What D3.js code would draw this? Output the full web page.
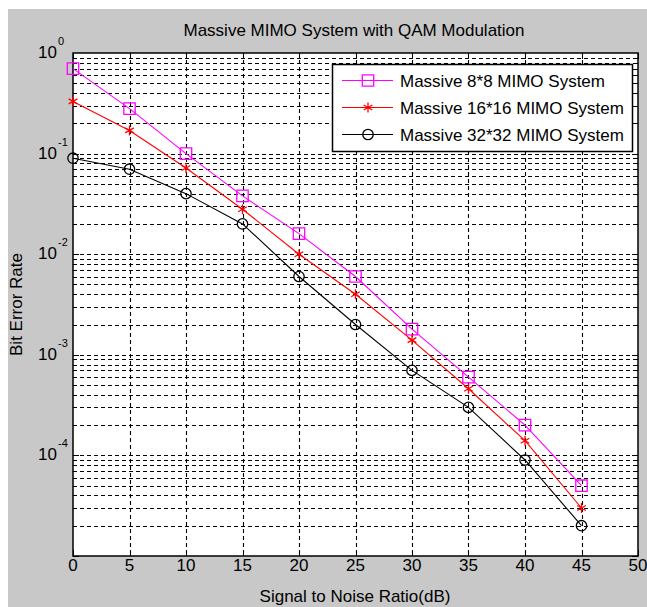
<!DOCTYPE html>
<html>
  <head>
    <meta charset="utf-8">
    <title>Massive MIMO BER</title>
    <script src="https://d3js.org/d3.v7.min.js"></script>
    <style>
      body { margin: 0; background: #fff; font-family: "Liberation Sans", Arial, sans-serif; }
      svg text { fill: #000; }
    </style>
  </head>
  <body>
    <div id="chart"></div>
    <script>
      // SNR values (dB) on the x axis
      var snr = [0, 5, 10, 15, 20, 25, 30, 35, 40, 45];

      // bit error rate, one array per system
      var ber8  = [0.7, 0.28, 0.1, 0.038, 0.016, 0.006, 0.0018, 0.0006, 0.0002, 0.00005];
      var ber16 = [0.33, 0.17, 0.072, 0.028, 0.01, 0.004, 0.0014, 0.00046, 0.00014, 0.00003];
      var ber32 = [0.09, 0.07, 0.04, 0.02, 0.006, 0.002, 0.0007, 0.0003, 0.00009, 0.00002];

      var seriesNames = ["Massive 8*8 MIMO System", "Massive 16*16 MIMO System", "Massive 32*32 MIMO System"];
      var xTicks = [0, 5, 10, 15, 20, 25, 30, 35, 40, 45, 50];
      var yExponents = [0, -1, -2, -3, -4];

      var W = 647, H = 607;
      // note: "top" is taken by window.top, so the plot box uses its own names
      var pl = 73, pr = 638, pt = 53, pb = 556;

      var svg = d3.select("#chart").append("svg")
        .attr("width", W)
        .attr("height", H);

      // grey figure background
      svg.append("rect")
        .attr("x", 8).attr("y", 9)
        .attr("width", W - 8).attr("height", H - 9)
        .attr("fill", "#c8c8c8");

      var x = d3.scaleLinear().domain([0, 50]).range([pl, pr]);
      var y = d3.scaleLog().domain([1e-5, 1]).range([pb, pt]);

      svg.append("rect")
        .attr("x", pl).attr("y", pt)
        .attr("width", pr - pl).attr("height", pb - pt)
        .attr("fill", "#fff");

      // grid: every minor decade step horizontally, every x tick vertically
      var yGrid = [];
      for (var e = -5; e < 0; e++) {
        for (var m = 1; m < 10; m++) yGrid.push(m * Math.pow(10, e));
      }
      var grid = svg.append("g")
        .attr("stroke", "#000")
        .attr("stroke-width", 1.1)
        .attr("stroke-dasharray", "4,3");

      grid.selectAll("line.h").data(yGrid.filter(function(v) { return v > 1e-5; }))
        .enter().append("line").attr("class", "h")
          .attr("x1", pl).attr("x2", pr)
          .attr("y1", function(d) { return Math.round(y(d)) + 0.5; })
          .attr("y2", function(d) { return Math.round(y(d)) + 0.5; });

      grid.selectAll("line.v").data(xTicks.slice(1, -1))
        .enter().append("line").attr("class", "v")
          .attr("y1", pt).attr("y2", pb)
          .attr("x1", function(d) { return Math.round(x(d)) + 0.5; })
          .attr("x2", function(d) { return Math.round(x(d)) + 0.5; });

      // tick marks on all four sides (inward)
      var ticks = svg.append("g").attr("stroke", "#000").attr("stroke-width", 1);
      xTicks.forEach(function(t) {
        var px = Math.round(x(t)) + 0.5;
        ticks.append("line").attr("x1", px).attr("x2", px).attr("y1", pb).attr("y2", pb - 6);
        ticks.append("line").attr("x1", px).attr("x2", px).attr("y1", pt).attr("y2", pt + 6);
      });
      yGrid.forEach(function(v) {
        var py = Math.round(y(v)) + 0.5;
        var len = (Math.abs(Math.log10(v) - Math.round(Math.log10(v))) < 1e-9) ? 6 : 3;
        ticks.append("line").attr("x1", pl).attr("x2", pl + len).attr("y1", py).attr("y2", py);
        ticks.append("line").attr("x1", pr).attr("x2", pr - len).attr("y1", py).attr("y2", py);
      });

      svg.append("rect")
        .attr("x", pl).attr("y", pt)
        .attr("width", pr - pl).attr("height", pb - pt)
        .attr("fill", "none")
        .attr("stroke", "#000")
        .attr("stroke-width", 1.5);

      // x tick labels
      svg.append("g").selectAll("text").data(xTicks)
        .enter().append("text")
          .attr("x", function(d) { return x(d); })
          .attr("y", 571)
          .attr("text-anchor", "middle")
          .attr("font-size", 17)
          .text(function(d) { return d; });

      // y tick labels 10^n
      var yl = svg.append("g").selectAll("g").data(yExponents)
        .enter().append("g");
      yl.append("text")
        .attr("x", 57)
        .attr("y", function(d) { return y(Math.pow(10, d)) + 5; })
        .attr("text-anchor", "end")
        .attr("font-size", 17)
        .text("10");
      yl.append("text")
        .attr("x", 58)
        .attr("y", function(d) { return y(Math.pow(10, d)) - 8; })
        .attr("font-size", 11)
        .text(function(d) { return d; });

      // titles
      svg.append("text")
        .attr("x", 354).attr("y", 36)
        .attr("text-anchor", "middle")
        .attr("font-size", 17)
        .text("Massive MIMO System with QAM Modulation");
      svg.append("text")
        .attr("x", 355).attr("y", 602)
        .attr("text-anchor", "middle")
        .attr("font-size", 17)
        .text("Signal to Noise Ratio(dB)");
      svg.append("text")
        .attr("transform", "translate(22," + ((pt + pb) / 2) + ") rotate(-90)")
        .attr("text-anchor", "middle")
        .attr("font-size", 17)
        .text("Bit Error Rate");

      // series
      var series = [
        { name: seriesNames[0], values: ber8,  color: "#ff00ff", shape: d3.symbolSquare,   size: 130 },
        { name: seriesNames[1], values: ber16, color: "#ff0000", shape: d3.symbolAsterisk, size: 70 },
        { name: seriesNames[2], values: ber32, color: "#000000", shape: d3.symbolCircle,   size: 85 }
      ];

      var line = d3.line()
        .x(function(d) { return x(d[0]); })
        .y(function(d) { return y(d[1]); });

      series.forEach(function(s) {
        var pts = snr.map(function(v, i) { return [v, s.values[i]]; });
        svg.append("path")
          .datum(pts)
          .attr("d", line)
          .attr("fill", "none")
          .attr("stroke", s.color)
          .attr("stroke-width", 1.1);
        svg.append("g").selectAll("path").data(pts)
          .enter().append("path")
            .attr("transform", function(d) { return "translate(" + x(d[0]) + "," + y(d[1]) + ")"; })
            .attr("d", d3.symbol().type(s.shape).size(s.size))
            .attr("fill", "none")
            .attr("stroke", s.color)
            .attr("stroke-width", 1.3);
      });

      // legend
      var lg = svg.append("g");
      lg.append("rect")
        .attr("x", 332.5).attr("y", 64.5)
        .attr("width", 300).attr("height", 87)
        .attr("fill", "#fff")
        .attr("stroke", "#000")
        .attr("stroke-width", 1.5);
      series.forEach(function(s, i) {
        var cy = 80.5 + i * 27;
        lg.append("line")
          .attr("x1", 342).attr("x2", 393)
          .attr("y1", cy).attr("y2", cy)
          .attr("stroke", s.color)
          .attr("stroke-width", 1.1);
        lg.append("path")
          .attr("transform", "translate(368," + cy + ")")
          .attr("d", d3.symbol().type(s.shape).size(s.size))
          .attr("fill", "none")
          .attr("stroke", s.color)
          .attr("stroke-width", 1.3);
        lg.append("text")
          .attr("x", 400).attr("y", cy + 6)
          .attr("font-size", 17)
          .text(s.name);
      });
    </script>
  </body>
</html>
